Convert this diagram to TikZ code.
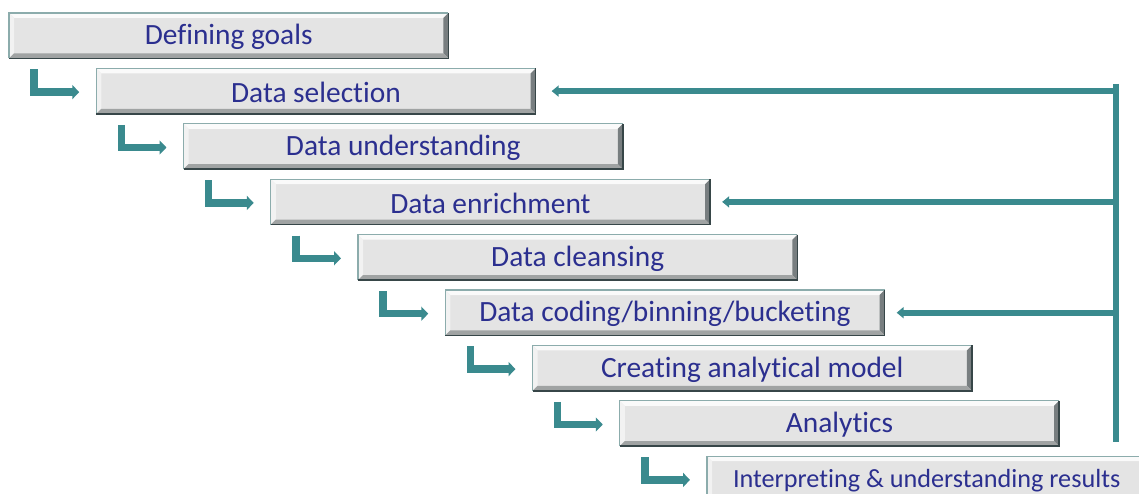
\documentclass[tikz,border=0pt]{standalone}
\usepackage{fontspec}
\setmainfont{Carlito}[Ligatures={NoCommon}]
\usetikzlibrary{arrows.meta,calc}
\definecolor{teal1}{RGB}{58,138,142}
\definecolor{boxfill}{RGB}{228,228,228}
\definecolor{txtblue}{RGB}{43,47,143}
\definecolor{bvtop}{RGB}{250,250,250}
\definecolor{bvleft}{RGB}{242,242,242}
\definecolor{bvright}{RGB}{120,126,128}
\definecolor{bvbot}{RGB}{160,163,163}
\definecolor{olight}{RGB}{140,172,172}
\definecolor{odark}{RGB}{55,70,72}
\tikzset{
  stepbox/.style={anchor=north west, minimum width=439pt, minimum height=45pt, inner sep=0pt,
    fill=boxfill},
  steptext/.style={text=txtblue, font=\fontsize{29.4}{32}\selectfont, yshift=-1.5pt},
  larrow/.style={draw=teal1, line width=7.5pt, -{Triangle[width=14pt,length=7pt]}},
  fbline/.style={draw=teal1, line width=6pt},
  fbarrow/.style={draw=teal1, line width=6pt, -{Triangle[width=11pt,length=7pt]}}
}
\newcommand\bevelit[1]{%
  \fill[bvtop] (#1.north west) -- (#1.north east) -- ([shift={(-5pt,-5pt)}]#1.north east) -- ([shift={(5pt,-5pt)}]#1.north west) -- cycle;
  \fill[bvleft] (#1.north west) -- ([shift={(5pt,-5pt)}]#1.north west) -- ([shift={(5pt,5pt)}]#1.south west) -- (#1.south west) -- cycle;
  \fill[bvright] (#1.north east) -- (#1.south east) -- ([shift={(-5pt,5pt)}]#1.south east) -- ([shift={(-5pt,-5pt)}]#1.north east) -- cycle;
  \fill[bvbot] (#1.south west) -- ([shift={(5pt,5pt)}]#1.south west) -- ([shift={(-5pt,5pt)}]#1.south east) -- (#1.south east) -- cycle;
  \draw[olight, line width=1.3pt] (#1.south west) -- (#1.north west) -- (#1.north east);
  \draw[odark, line width=1.5pt] (#1.north east) -- (#1.south east) -- (#1.south west);
}
\begin{document}
\begin{tikzpicture}[x=1pt,y=-1pt]
\useasboundingbox (0,0) rectangle (1139,494);
\clip (0,0) rectangle (1139,494);
\node[stepbox] (b1) at (9,13) {};
\node[stepbox] (b2) at (96.25,68.4) {};
\node[stepbox] (b3) at (183.5,123.8) {};
\node[stepbox] (b4) at (270.75,179.2) {};
\node[stepbox] (b5) at (358,234.6) {};
\node[stepbox] (b6) at (445.25,290) {};
\node[stepbox] (b7) at (532.5,345.4) {};
\node[stepbox] (b8) at (619.75,400.8) {};
\node[stepbox] (b9) at (707,456.2) {};
\foreach \n in {b1,b2,b3,b4,b5,b6,b7,b8,b9} {\bevelit{\n}}
\node[steptext] (t1) at (b1.center) {Defining goals};
\node[steptext] (t2) at (b2.center) {Data selection};
\node[steptext] (t3) at (b3.center) {Data understanding};
\node[steptext] (t4) at (b4.center) {Data enrichment};
\node[steptext] (t5) at (b5.center) {Data cleansing};
\node[steptext] (t6) at (b6.center) {Data coding/binning/bucketing};
\node[steptext] (t7) at (b7.center) {Creating analytical model};
\node[steptext] (t8) at (b8.center) {Analytics};
\node[steptext, font=\fontsize{26.2}{30}\selectfont] (t9) at (b9.center) {Interpreting \& understanding results};
% step arrows
\draw[larrow] ([shift={(25pt,-11pt)}]b1.south west) |- ([shift={(-17pt,-1pt)}]b2.west);
\draw[larrow] ([shift={(25pt,-11pt)}]b2.south west) |- ([shift={(-17pt,-1pt)}]b3.west);
\draw[larrow] ([shift={(25pt,-11pt)}]b3.south west) |- ([shift={(-17pt,-1pt)}]b4.west);
\draw[larrow] ([shift={(25pt,-11pt)}]b4.south west) |- ([shift={(-17pt,-1pt)}]b5.west);
\draw[larrow] ([shift={(25pt,-11pt)}]b5.south west) |- ([shift={(-17pt,-1pt)}]b6.west);
\draw[larrow] ([shift={(25pt,-11pt)}]b6.south west) |- ([shift={(-17pt,-1pt)}]b7.west);
\draw[larrow] ([shift={(25pt,-11pt)}]b7.south west) |- ([shift={(-17pt,-1pt)}]b8.west);
\draw[larrow] ([shift={(25pt,-11pt)}]b8.south west) |- ([shift={(-17pt,-1pt)}]b9.west);
% feedback
\coordinate (fbtop) at (1116,84);
\coordinate (fbbot) at (1116,442);
\draw[fbline] (fbtop) -- (fbbot);
\draw[fbarrow] ([shift={(3pt,0pt)}]fbtop |- b2.east) -- ([xshift=16pt]b2.east);
\draw[fbarrow] ([shift={(3pt,0pt)}]fbtop |- b4.east) -- ([xshift=12pt]b4.east);
\draw[fbarrow] ([shift={(3pt,0pt)}]fbtop |- b6.east) -- ([xshift=12pt]b6.east);
\end{tikzpicture}
\end{document}
